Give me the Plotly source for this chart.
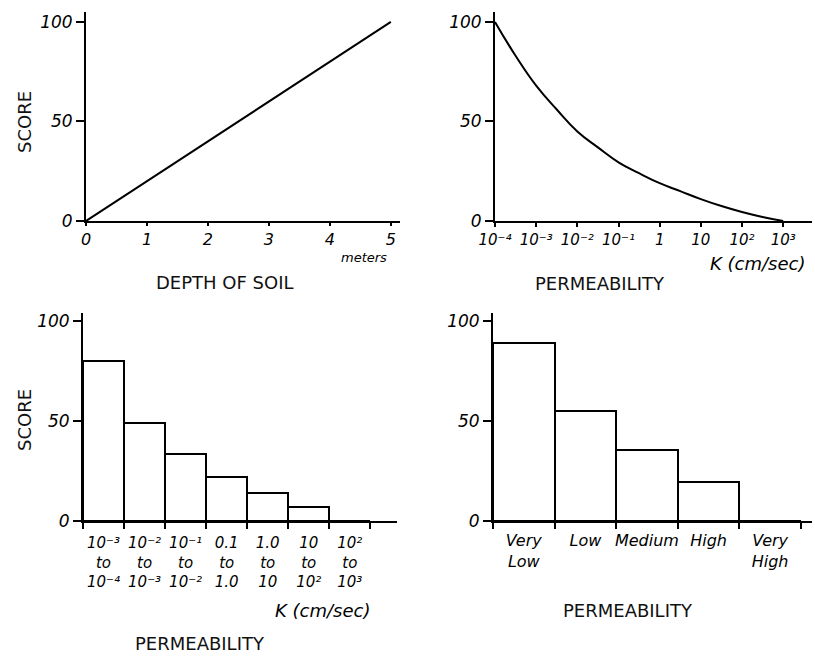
import plotly.graph_objects as go

W, H = 815, 656

# ---- data ----
depth_m = [0, 5]
depth_score = [0, 100]
depth_ticks = [0, 1, 2, 3, 4, 5]

perm_k = [1e-4, 3.16e-4, 1e-3, 3.16e-3, 1e-2, 3.16e-2, 1e-1, 3.16e-1, 1, 3.16, 10, 31.6, 100, 316, 1000]
perm_score = [100, 83, 68, 56, 45, 37, 29.5, 24, 19, 15, 11, 7.5, 4.5, 2, 0]
perm_ticks = [1e-4, 1e-3, 1e-2, 1e-1, 1, 10, 100, 1000]
perm_ticktext = ["10⁻⁴", "10⁻³", "10⁻²", "10⁻¹", "1", "10", "10²", "10³"]

k_classes = ["10⁻³<br>to<br>10⁻⁴",
             "10⁻²<br>to<br>10⁻³",
             "10⁻¹<br>to<br>10⁻²",
             "0.1<br>to<br>1.0",
             "1.0<br>to<br>10",
             "10<br>to<br>10²",
             "10²<br>to<br>10³"]
k_class_score = [80, 49, 33.5, 22, 14, 7, 0]

rating_classes = ["Very<br>Low", "Low", "Medium", "High", "Very<br>High"]
rating_score = [89, 55, 35.5, 19.5, 0]

score_ticks = [0, 50, 100]

# ---- helpers ----
def fx(px):
    return px / W

def fy(py):
    return 1 - py / H

HAND_FAM = "DejaVu Sans, Liberation Sans, sans-serif"
HAND = dict(family=HAND_FAM, size=16, color="black", style="italic")
TITLE = dict(family="DejaVu Sans, Liberation Sans, Arial, sans-serif", size=18, color="#111")

fig = go.Figure()

fig.add_trace(go.Scatter(x=depth_m, y=depth_score, mode="lines",
                         line=dict(color="black", width=2), xaxis="x", yaxis="y"))
fig.add_trace(go.Scatter(x=perm_k, y=perm_score, mode="lines",
                         line=dict(color="black", width=2, shape="spline", smoothing=1.3),
                         xaxis="x2", yaxis="y2"))
fig.add_trace(go.Bar(x=[i + 0.5 for i in range(len(k_classes))], y=k_class_score, width=1,
                     marker=dict(color="white", line=dict(color="black", width=2)),
                     xaxis="x3", yaxis="y3"))
fig.add_trace(go.Bar(x=[i + 0.5 for i in range(len(rating_classes))], y=rating_score, width=1,
                     marker=dict(color="white", line=dict(color="black", width=2)),
                     xaxis="x4", yaxis="y4"))

common_ax = dict(showline=True, linecolor="black", linewidth=2, ticks="outside",
                 tickcolor="black", tickwidth=2, ticklen=6, showgrid=False,
                 zeroline=False, tickfont=HAND, fixedrange=True, automargin=False)

yax = dict(common_ax, range=[0, 105], tickvals=score_ticks, ticklen=8,
           tickfont=dict(HAND, size=17))
ybar = dict(common_ax, range=[0, 104], tickvals=score_ticks, ticklen=8,
            tickfont=dict(HAND, size=17))

fig.update_layout(
    width=W, height=H, autosize=False,
    margin=dict(l=0, r=0, t=0, b=0),
    paper_bgcolor="white", plot_bgcolor="white",
    showlegend=False, bargap=0,
    xaxis=dict(common_ax, domain=[fx(86), fx(400)], range=[0, 5.15],
               tickvals=depth_ticks, ticklen=3, anchor="y"),
    yaxis=dict(yax, domain=[fy(221), fy(12)], anchor="x"),
    xaxis2=dict(common_ax, type="log", domain=[fx(495), fx(812)], range=[-4, 3.7],
                tickvals=perm_ticks, ticktext=perm_ticktext, tickfont=dict(HAND, size=15),
                ticklen=4, anchor="y2"),
    yaxis2=dict(yax, domain=[fy(221), fy(12)], anchor="x2"),
    xaxis3=dict(common_ax, domain=[fx(83), fx(397)], range=[0, 7.65],
                tickvals=[i + 0.5 for i in range(len(k_classes))], ticktext=k_classes,
                ticklen=0, ticklabelstandoff=7, tickfont=dict(HAND, size=15),
                minor=dict(tickvals=list(range(len(k_classes) + 1)), ticks="outside",
                           ticklen=6, tickwidth=2, tickcolor="black"),
                anchor="y3"),
    yaxis3=dict(ybar, domain=[fy(521), fy(313)], anchor="x3"),
    xaxis4=dict(common_ax, domain=[fx(493), fx(812)], range=[0, 5.18],
                tickvals=[i + 0.5 for i in range(len(rating_classes))], ticktext=rating_classes,
                ticklen=0, ticklabelstandoff=4, tickfont=dict(HAND, size=16),
                minor=dict(tickvals=list(range(len(rating_classes) + 1)), ticks="outside",
                           ticklen=6, tickwidth=2, tickcolor="black"),
                anchor="y4"),
    yaxis4=dict(ybar, domain=[fy(521), fy(313)], anchor="x4"),
)

def ann(text, x, y, font, angle=0):
    fig.add_annotation(text=text, x=fx(x), y=fy(y), xref="paper", yref="paper",
                       showarrow=False, font=font, textangle=angle,
                       xanchor="center", yanchor="middle")

ann("SCORE", 24, 122, TITLE, -90)
ann("SCORE", 24, 420, TITLE, -90)
ann("DEPTH OF SOIL", 225, 282, TITLE)
ann("meters", 364, 257, dict(HAND, size=13))
ann("PERMEABILITY", 600, 283, TITLE)
ann("K (cm/sec)", 757, 263, dict(HAND, size=18))
ann("K (cm/sec)", 322, 610, dict(HAND, size=18))
ann("PERMEABILITY", 200, 643, TITLE)
ann("PERMEABILITY", 628, 610, TITLE)

fig.write_html("out.html")
